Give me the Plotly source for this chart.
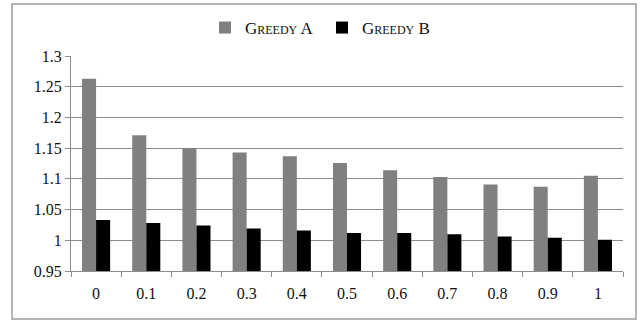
import plotly.graph_objects as go

categories = ["0", "0.1", "0.2", "0.3", "0.4", "0.5", "0.6", "0.7", "0.8", "0.9", "1"]
greedy_a = [1.263, 1.171, 1.150, 1.143, 1.137, 1.126, 1.114, 1.103, 1.091, 1.087, 1.105]
greedy_b = [1.033, 1.028, 1.024, 1.019, 1.016, 1.012, 1.012, 1.010, 1.006, 1.004, 1.001]
y_ticks = [0.95, 1, 1.05, 1.1, 1.15, 1.2, 1.25, 1.3]
y_tick_labels = ["0.95", "1", "1.05", "1.1", "1.15", "1.2", "1.25", "1.3"]

W, H = 642, 322
L, R, T, B = 71, 19, 56, 51
pw, ph = W - L - R, H - T - B

def px_x(x):
    return (x - L) / pw

def px_y(y):
    return (H - B - y) / ph

font_family = "Liberation Serif"

fig = go.Figure()
fig.add_trace(go.Bar(x=categories, y=greedy_a, name="Greedy A",
                     marker=dict(color="#808080", line=dict(width=0))))
fig.add_trace(go.Bar(x=categories, y=greedy_b, name="Greedy B",
                     marker=dict(color="#000000", line=dict(width=0))))

fig.update_layout(
    width=W, height=H,
    margin=dict(l=L, r=R, t=T, b=B, autoexpand=False),
    paper_bgcolor="white", plot_bgcolor="white",
    barmode="group", bargap=0.44, bargroupgap=0,
    font=dict(family=font_family, size=16, color="#111"),
    showlegend=True,
    legend=dict(orientation="h", x=px_x(205), y=px_y(28), xanchor="left", yanchor="middle",
                font=dict(family=font_family, size=17, color="#111", variant="small-caps"),
                itemwidth=30, entrywidth=72, entrywidthmode="pixels",
                traceorder="normal", bgcolor="rgba(0,0,0,0)"),
    xaxis=dict(type="category", showgrid=False, showline=True, linecolor="#8c8c8c", linewidth=1,
               ticks="outside", tickson="boundaries", ticklen=5, tickcolor="#8c8c8c",
               tickfont=dict(family=font_family, size=16, color="#111"), ticklabelstandoff=8),
    yaxis=dict(range=[0.95, 1.3], tickvals=y_ticks, ticktext=y_tick_labels,
               showgrid=True, gridcolor="#8c8c8c", gridwidth=1,
               showline=True, linecolor="#8c8c8c", linewidth=1,
               ticks="outside", ticklen=5, tickcolor="#8c8c8c", zeroline=False,
               tickfont=dict(family=font_family, size=16, color="#111")),
    shapes=[dict(type="rect", xref="paper", yref="paper",
                 x0=px_x(12), x1=px_x(636), y0=px_y(319), y1=px_y(4),
                 line=dict(color="#b4b4b4", width=2), layer="above")],
)

fig.write_html("out.html", config={"displayModeBar": False},
               post_script="document.body.style.margin='0';")
